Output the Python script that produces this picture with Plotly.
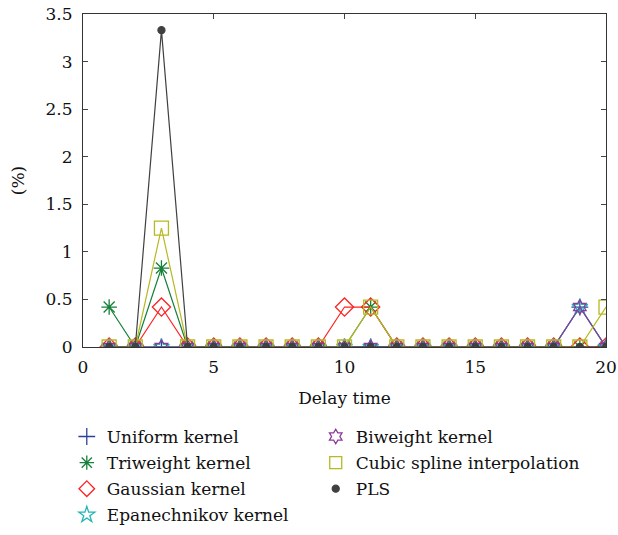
import plotly.graph_objects as go

delay = list(range(1, 21))
uniform = [0]*18 + [0.42, 0]
triweight = [0.42, 0, 0.83] + [0]*7 + [0.42] + [0]*9
gaussian = [0, 0, 0.42] + [0]*6 + [0.42, 0.42] + [0]*9
epanech = [0]*18 + [0.42, 0]
biweight = [0]*18 + [0.42, 0]
cubic = [0, 0, 1.25] + [0]*7 + [0.42] + [0]*8 + [0.42]
pls = [0, 0, 3.33] + [0]*17

x_ticks = [0, 5, 10, 15, 20]
y_ticks = [0, 0.5, 1, 1.5, 2, 2.5, 3, 3.5]
y_labels = ["0", "0.5", "1", "1.5", "2", "2.5", "3", "3.5"]

series = [
    ("Uniform kernel", uniform, "#2e3f9a", "cross-thin-open", 12, "legend"),
    ("Triweight kernel", triweight, "#17803a", "asterisk-open", 13, "legend"),
    ("Gaussian kernel", gaussian, "#ff2222", "diamond-open", 14, "legend"),
    ("Epanechnikov kernel", epanech, "#22b5b5", "star-open", 12, "legend"),
    ("Biweight kernel", biweight, "#8b3a9a", "hexagram-open", 11, "legend2"),
    ("Cubic spline interpolation", cubic, "#b8b820", "square-open", 14, "legend2"),
    ("PLS", pls, "#404040", "circle", 7, "legend2"),
]

fig = go.Figure()
for name, vals, col, sym, sz, lg in series:
    fig.add_trace(go.Scatter(
        x=delay, y=vals, name=name, mode="lines+markers", showlegend=False,
        line=dict(color=col, width=1.2),
        marker=dict(symbol=sym, size=sz, color=col, line=dict(color=col, width=1.3)),
    ))
for name, vals, col, sym, sz, lg in series:
    fig.add_trace(go.Scatter(
        x=[None], y=[None], name=name, mode="markers", legend=lg, legendgroup=name,
        marker=dict(symbol=sym, size=min(sz, 12), color=col, line=dict(color=col, width=1.3)),
    ))

font_family = "DejaVu Serif"
legend_common = dict(
    font=dict(family=font_family, size=17, color="#111"),
    bgcolor="rgba(0,0,0,0)", itemwidth=30,
    yanchor="top", xanchor="left", tracegroupgap=1,
)

fig.update_layout(
    width=618, height=535,
    margin=dict(l=83, r=12, t=14, b=188, autoexpand=False),
    paper_bgcolor="white", plot_bgcolor="white",
    font=dict(family=font_family, size=16, color="#111"),
    xaxis=dict(range=[0, 20], tickvals=x_ticks, ticks="inside", ticklen=5,
               showline=True, mirror="ticks", linecolor="#333", linewidth=1.2,
               showgrid=False, zeroline=False, tickfont=dict(size=17),
               automargin=False, ticklabelstandoff=4, ticklabeloverflow="allow",
               title=dict(text="Delay time", font=dict(size=17), standoff=16)),
    yaxis=dict(range=[0, 3.5], tickvals=y_ticks, ticktext=y_labels, ticks="inside", ticklen=5,
               showline=True, mirror="ticks", linecolor="#333", linewidth=1.2,
               showgrid=False, zeroline=False, tickfont=dict(size=17),
               automargin=False, ticklabelstandoff=6, ticklabeloverflow="allow",
               title=dict(text="(%)", font=dict(size=17), standoff=16)),
    legend=dict(x=-0.031, y=-0.216, **legend_common),
    legend2=dict(x=0.445, y=-0.216, **legend_common),
)

fig.write_html("out.html", config={"displayModeBar": False},
               post_script="document.body.style.margin='0';")
